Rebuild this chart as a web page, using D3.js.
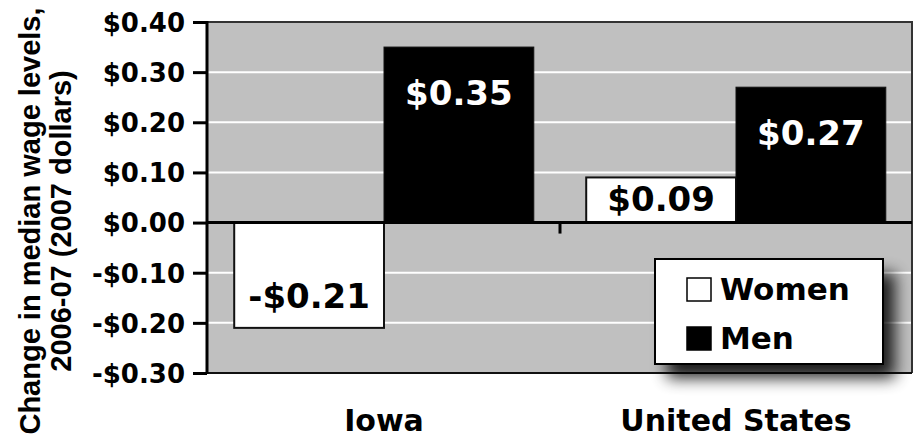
<!DOCTYPE html>
<html><head><meta charset="utf-8">
<script src="https://cdn.jsdelivr.net/npm/d3@7"></script>
<style>body{margin:0;background:#fff}svg{display:block}</style>
</head><body>
<script>
const categories = ["Iowa", "United States"];
const seriesNames = ["Women", "Men"];
const women = [-0.21, 0.09];
const men = [0.35, 0.27];
const valueLabels = [["-$0.21", "$0.09"], ["$0.35", "$0.27"]];
const yTicks = [-0.3, -0.2, -0.1, 0, 0.1, 0.2, 0.3, 0.4];
const yTickLabels = ["-$0.30", "-$0.20", "-$0.10", "$0.00", "$0.10", "$0.20", "$0.30", "$0.40"];
const yTitle = ["Change in median wage levels,", "2006-07 (2007 dollars)"];

const W = 918, H = 438;
const L = 208, R = 912, T = 22, B = 373;
const fillC = {Women: "#ffffff", Men: "#000000"};
const seriesVals = {Women: women, Men: men};

const svg = d3.select("body").append("svg").attr("width", W).attr("height", H);
const defs = svg.append("defs");
const f = defs.append("filter").attr("id", "sh").attr("x", "-30%").attr("y", "-30%").attr("width", "160%").attr("height", "160%");
f.append("feGaussianBlur").attr("stdDeviation", 8);

const x0 = d3.scaleBand().domain(categories).range([L, R]);
const x1 = d3.scaleBand().domain(seriesNames).range([0, x0.bandwidth()]).paddingOuter(0.175);
const y = d3.scaleLinear().domain([-0.3, 0.4]).range([B, T]);

// plot background
svg.append("rect").attr("x", L).attr("y", T).attr("width", R - L).attr("height", B - T).attr("fill", "#c0c0c0");
// gridlines
svg.append("g").selectAll("line").data(yTicks.filter(v => v !== 0 && v !== 0.4 && v !== -0.3)).join("line")
  .attr("x1", L).attr("x2", R).attr("y1", d => y(d)).attr("y2", d => y(d))
  .attr("stroke", "#ffffff").attr("stroke-width", 2);
// top/right border
svg.append("path").attr("d", `M${L},${T}H${R}V${B}`).attr("fill", "none").attr("stroke", "#333").attr("stroke-width", 2);
svg.append("line").attr("x1", L).attr("x2", R).attr("y1", B).attr("y2", B).attr("stroke", "#111").attr("stroke-width", 2);

// bars
const data = [];
categories.forEach((c, i) => seriesNames.forEach((s, j) => data.push({c, s, v: seriesVals[s][i], label: valueLabels[j][i]})));
const g = svg.append("g");
g.selectAll("rect").data(data).join("rect")
  .attr("x", d => x0(d.c) + x1(d.s))
  .attr("width", x1.bandwidth())
  .attr("y", d => y(Math.max(0, d.v)))
  .attr("height", d => Math.abs(y(d.v) - y(0)))
  .attr("fill", d => fillC[d.s])
  .attr("stroke", "#111").attr("stroke-width", d => d.s === "Women" ? 2 : 1);

// zero line (axis)
svg.append("line").attr("x1", L).attr("x2", R).attr("y1", y(0)).attr("y2", y(0)).attr("stroke", "#000").attr("stroke-width", 3);
// category ticks (downward)
svg.append("g").selectAll("line").data([categories[1]]).join("line")
  .attr("x1", d => x0(d)).attr("x2", d => x0(d)).attr("y1", y(0)).attr("y2", y(0) + 11)
  .attr("stroke", "#000").attr("stroke-width", 3);

// y axis
const yAxis = d3.axisLeft(y).tickValues(yTicks).tickSize(14).tickFormat((d, i) => yTickLabels[i]);
const ya = svg.append("g").attr("transform", `translate(${L - 1},0)`).call(yAxis);
ya.select(".domain").attr("stroke", "#000").attr("stroke-width", 3).attr("d", `M-0,${T - 1}V${B + 1}`);
ya.selectAll(".tick line").attr("stroke", "#000").attr("stroke-width", 3);
ya.selectAll(".tick text").attr("x", -22).attr("dy", "0.36em")
  .attr("font-family", "DejaVu Sans").attr("font-weight", "bold").attr("font-size", 26).attr("fill", "#000");

// value labels
g.selectAll("text").data(data).join("text")
  .attr("x", d => x0(d.c) + x1(d.s) + x1.bandwidth() / 2)
  .attr("y", d => d.v >= 0 ? Math.min(y(d.v) + 58, y(0) - 12) : y(d.v) - 20)
  .attr("text-anchor", "middle")
  .attr("font-family", "DejaVu Sans").attr("font-weight", "bold").attr("font-size", 34)
  .attr("fill", d => d.s === "Men" ? "#fff" : "#000")
  .text(d => d.label);

// x labels
svg.append("g").selectAll("text").data(categories).join("text")
  .attr("x", d => x0(d) + x0.bandwidth() / 2).attr("y", 431)
  .attr("text-anchor", "middle")
  .attr("font-family", "DejaVu Sans").attr("font-weight", "bold").attr("font-size", 30)
  .text(d => d);

// y title
const yt = svg.append("text").attr("transform", `translate(40,221) rotate(-90)`)
  .attr("text-anchor", "middle").attr("font-family", "Liberation Sans").attr("font-weight", "bold").attr("font-size", 29);
yt.selectAll("tspan").data(yTitle).join("tspan").attr("x", 0).attr("y", (d, i) => i * 31).text(d => d);

// legend
const lg = svg.append("g").attr("transform", "translate(655,259)");
const lw = 228, lh = 105;
lg.append("rect").attr("x", 12).attr("y", 14).attr("width", lw).attr("height", lh).attr("fill", "#000").attr("opacity", 0.85).attr("filter", "url(#sh)");
lg.append("rect").attr("width", lw).attr("height", lh).attr("fill", "#fff").attr("stroke", "#000").attr("stroke-width", 2);
const li = lg.selectAll("g.item").data(seriesNames).join("g").attr("class", "item")
  .attr("transform", (d, i) => `translate(32,${19 + i * 49})`);
li.append("rect").attr("width", 24).attr("height", 23).attr("fill", d => fillC[d]).attr("stroke", "#000").attr("stroke-width", 1.5);
li.append("text").attr("x", 33).attr("y", 22)
  .attr("font-family", "DejaVu Sans").attr("font-weight", "bold").attr("font-size", 31).text(d => d);
</script>
</body></html>
